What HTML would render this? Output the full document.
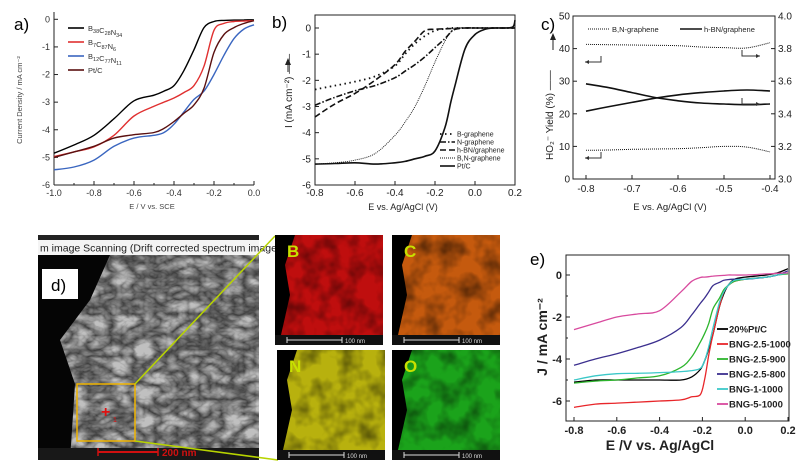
<!DOCTYPE html>
<html><head><meta charset="utf-8">
<style>
body{margin:0;background:#fff;width:804px;height:464px;overflow:hidden;font-family:"Liberation Sans",sans-serif}
svg{position:absolute;left:0;top:0}
</style></head>
<body>
<svg id="fig" width="804" height="464" viewBox="0 0 804 464" xmlns="http://www.w3.org/2000/svg">
<defs>
<filter id="tex" x="0" y="0" width="100%" height="100%"><feTurbulence type="turbulence" baseFrequency="0.045 0.07" numOctaves="3" seed="4"/><feColorMatrix type="matrix" values="0 0 0 0 0.85  0 0 0 0 0.85  0 0 0 0 0.85  0 0 0 1.6 0"/></filter>
<filter id="noise" x="0" y="0" width="100%" height="100%"><feTurbulence type="fractalNoise" baseFrequency="0.05" numOctaves="3" seed="7"/><feColorMatrix type="matrix" values="0 0 0 0 0  0 0 0 0 0  0 0 0 0 0  0 0 0 -1.8 1.1"/></filter>
</defs>
<g id="layer"></g>
<g>
<rect x="38" y="235" width="221" height="225" fill="#111"/>
<rect x="38" y="255" width="221" height="205" fill="#3a3a3a"/>
<rect x="38" y="255" width="221" height="205" filter="url(#tex)" opacity="0.75"/>
<polygon points="38,255 110,255 90,300 60,340 75,384 70,460 38,460" fill="#050505"/>
<rect x="38" y="235" width="221" height="5" fill="#222"/>
<rect x="38" y="240" width="221" height="15" fill="#f4f4f4"/>
<text x="40" y="251.5" font-size="10.5" fill="#222">m image Scanning (Drift corrected spectrum image</text>
<rect x="42" y="269" width="36" height="30" fill="#fff"/>
<text x="51" y="291" font-size="17" fill="#000">d)</text>
<rect x="77" y="384" width="58" height="57" fill="none" stroke="#f0b400" stroke-width="1.5"/>
<text x="101" y="417" font-size="16" fill="#e01010" font-weight="bold">+</text>
<text x="113" y="422" font-size="7" fill="#e01010">1</text>
<rect x="38" y="448" width="221" height="12" fill="#181818"/>
<line x1="98" y1="452" x2="158" y2="452" stroke="#d01010" stroke-width="2"/>
<line x1="98" y1="448" x2="98" y2="456" stroke="#d01010" stroke-width="1.5"/><line x1="158" y1="448" x2="158" y2="456" stroke="#d01010" stroke-width="1.5"/>
<text x="162" y="456" font-size="10" font-weight="bold" fill="#d01010">200 nm</text>
<line x1="135" y1="384" x2="275" y2="236" stroke="#b8d400" stroke-width="1.5"/>
<line x1="135" y1="441" x2="278" y2="460" stroke="#b8d400" stroke-width="1.5"/>
</g>
<g id="maps"></g>
</svg>
<script>
// ---------- data ----------
const aX=[-1.0,-0.9,-0.8,-0.7,-0.6,-0.5,-0.45,-0.4,-0.35,-0.3,-0.25,-0.2,-0.15,-0.1,-0.05,0.0];
const aBlack=[-4.85,-4.55,-4.2,-3.6,-2.95,-2.75,-2.6,-2.4,-1.85,-1.1,-0.3,-0.08,-0.04,-0.03,-0.02,-0.02];
const aRed=[-4.97,-4.8,-4.62,-4.2,-3.5,-3.15,-3.0,-2.85,-2.65,-2.4,-1.7,-0.4,-0.15,-0.08,-0.06,-0.05];
const aBlue=[-5.45,-5.35,-5.1,-4.6,-4.3,-4.2,-4.1,-3.8,-3.35,-2.9,-2.6,-2.0,-1.3,-0.7,-0.35,-0.2];
const aPt=[-5.0,-4.8,-4.6,-4.3,-4.18,-4.1,-3.95,-3.7,-3.4,-3.1,-2.5,-1.2,-0.55,-0.3,-0.15,-0.05];
const aNames=["B38C28N34","B7C87N6","B12C77N11","Pt/C"];

const bX=[-0.8,-0.7,-0.6,-0.5,-0.4,-0.35,-0.3,-0.25,-0.2,-0.15,-0.12,-0.1,-0.05,0.0,0.05,0.1,0.15,0.19,0.2];
const bB=[-2.35,-2.2,-2.05,-1.85,-1.45,-1.0,-0.6,-0.3,-0.1,-0.03,0,0,0,0,0,0,0,0,0];
const bN=[-2.95,-2.65,-2.4,-2.2,-1.9,-1.65,-1.4,-1.1,-0.75,-0.4,-0.15,-0.05,0,0,0,0,0,0,0];
const bH=[-3.4,-2.9,-2.5,-2.0,-1.4,-0.9,-0.5,-0.1,-0.05,-0.03,-0.02,-0.02,0,0,0,0,0,0,0];
const bBN=[-5.2,-5.15,-5.05,-4.8,-4.1,-3.6,-3.0,-2.2,-1.3,-0.5,-0.15,0,0,0,0,0,0,0,0];
const bPt=[-5.2,-5.18,-5.15,-5.2,-5.15,-5.1,-5.0,-4.9,-4.7,-3.8,-2.8,-2.2,-0.8,-0.25,-0.05,0,0,0.05,0.3];
const bNames=["B-graphene","N-graphene","h-BN/graphene","B,N-graphene","Pt/C"];

const cX=[-0.8,-0.75,-0.7,-0.65,-0.6,-0.55,-0.5,-0.45,-0.4];
const cDotTop=[41.3,41.2,41.1,41.0,40.9,40.5,40.3,40.2,41.8];
const cDotBot=[8.8,8.9,9.1,9.2,9.3,9.6,10.0,9.8,8.3];
const cSolidDown=[29.2,28.0,26.5,25.0,24.0,23.3,23.0,22.8,23.0];
const cSolidUp=[20.8,22.2,23.5,24.8,25.8,26.5,27.0,27.3,27.0];

const eX=[-0.8,-0.7,-0.6,-0.5,-0.4,-0.3,-0.25,-0.21,-0.19,-0.17,-0.15,-0.12,-0.1,-0.08,-0.05,0.0,0.1,0.15,0.2];
const ePt=[-5.1,-5.0,-5.0,-5.0,-5.0,-5.0,-4.85,-4.5,-4.1,-3.5,-2.8,-1.5,-0.9,-0.5,-0.2,-0.1,0.0,0.1,0.3];
const eRed=[-6.3,-6.15,-6.1,-6.05,-6.0,-5.95,-5.8,-5.7,-5.0,-3.8,-2.8,-1.5,-0.8,-0.5,-0.3,-0.2,-0.1,0.0,0.1];
const eGreen=[-5.15,-5.05,-5.0,-4.9,-4.8,-4.4,-3.9,-3.2,-2.8,-2.3,-1.6,-1.1,-0.7,-0.5,-0.3,-0.2,-0.1,0.0,0.05];
const ePurple=[-4.3,-4.0,-3.75,-3.45,-3.1,-2.5,-1.9,-1.35,-1.1,-0.8,-0.5,-0.35,-0.25,-0.22,-0.2,-0.2,-0.1,0.0,0.2];
const eCyan=[-5.0,-4.8,-4.7,-4.68,-4.65,-4.6,-4.55,-4.45,-4.1,-3.4,-2.5,-1.3,-0.8,-0.5,-0.25,-0.2,-0.1,0.0,0.1];
const eMag=[-2.6,-2.3,-2.0,-1.85,-1.7,-0.8,-0.3,-0.12,-0.1,-0.08,-0.05,-0.03,-0.02,0,0,0,0.05,0.08,0.1];
const eNames=["20%Pt/C","BNG-2.5-1000","BNG-2.5-900","BNG-2.5-800","BNG-1-1000","BNG-5-1000"];
const eColors=["#000","#e8262a","#2db52d","#3b2f8e","#3cc8c8","#d84a9e"];

// ---------- helpers ----------
const NS="http://www.w3.org/2000/svg";
const root=document.getElementById('layer');
function mk(tag,attrs,parent,text){const e=document.createElementNS(NS,tag);for(const k in attrs)e.setAttribute(k,attrs[k]);if(text!==undefined)e.textContent=text;(parent||root).appendChild(e);return e;}
function lin(d0,d1,r0,r1){return v=>r0+(v-d0)/(d1-d0)*(r1-r0);}
function smooth(pts){let d='M'+pts[0][0].toFixed(1)+','+pts[0][1].toFixed(1);for(let i=0;i<pts.length-1;i++){const p0=pts[i-1]||pts[i],p1=pts[i],p2=pts[i+1],p3=pts[i+2]||p2;const c1=[p1[0]+(p2[0]-p0[0])/6,p1[1]+(p2[1]-p0[1])/6],c2=[p2[0]-(p3[0]-p1[0])/6,p2[1]-(p3[1]-p1[1])/6];d+=' C'+c1.map(v=>v.toFixed(1))+' '+c2.map(v=>v.toFixed(1))+' '+p2[0].toFixed(1)+','+p2[1].toFixed(1);}return d;}
function series(xs,ys,sx,sy,attrs,name){const p=mk('path',Object.assign({d:smooth(xs.map((x,i)=>[sx(x),sy(ys[i])])),fill:'none'},attrs));return p;}
function txt(x,y,s,attrs,name){const t=mk('text',Object.assign({x:x,y:y},attrs),root,s);return t;}

// ---------- panel a ----------
{const sx=lin(-1,0,54,254),sy=lin(0,-6,19.3,185);
 mk('line',{x1:54,y1:12,x2:54,y2:185,stroke:'#222','stroke-width':1});
 mk('line',{x1:54,y1:185,x2:254,y2:185,stroke:'#222','stroke-width':1});
 [0,-1,-2,-3,-4,-5,-6].forEach(v=>{mk('line',{x1:54,y1:sy(v),x2:58,y2:sy(v),stroke:'#222'});txt(50,sy(v)+3,String(v),{'font-size':9,'text-anchor':'end',fill:'#333'},'a-y-tick-label');});
 [-1.0,-0.8,-0.6,-0.4,-0.2,0.0].forEach(v=>{mk('line',{x1:sx(v),y1:185,x2:sx(v),y2:181,stroke:'#222'});txt(sx(v),196,v.toFixed(1),{'font-size':9,'text-anchor':'middle',fill:'#333'},'a-x-tick-label');});
 [-0.9,-0.7,-0.5,-0.3,-0.1].forEach(v=>mk('line',{x1:sx(v),y1:185,x2:sx(v),y2:183,stroke:'#222'}));
 txt(14,30,'a)',{'font-size':17,fill:'#000'},'panel-a-label');
 txt(0,0,'Current Density / mA cm⁻²',{'font-size':7.5,fill:'#444',transform:'translate(22,100) rotate(-90)','text-anchor':'middle'},'a-y-axis-title');
 txt(152,209,'E / V vs. SCE',{'font-size':7.5,fill:'#444','text-anchor':'middle'},'a-x-axis-title');
 const cols=['#000','#e03030','#3a66c0','#5a1010'];[aBlack,aRed,aBlue,aPt].forEach((ys,i)=>series(aX,ys,sx,sy,{stroke:cols[i],'stroke-width':1.4},'a-series-'+i));
 aNames.forEach((n,i)=>{const y=28+i*14;mk('line',{x1:68,y1:y,x2:84,y2:y,stroke:cols[i],'stroke-width':1.6});const t=mk('text',{x:88,y:y+3,'font-size':7.5,fill:'#333'});
  n.replace(/([A-Za-z\/]+)(\d*)/g,(m,a,b)=>{mk('tspan',{},t,a);if(b){mk('tspan',{'font-size':5.5,dy:2},t,b);mk('tspan',{dy:-2},t,'');}return m;});});
}
// ---------- panel b ----------
{const sx=lin(-0.8,0.2,315,515),sy=lin(0,-6,28,185);
 mk('rect',{x:315,y:15,width:200,height:170,fill:'none',stroke:'#222'});
 [0,-1,-2,-3,-4,-5,-6].forEach(v=>{mk('line',{x1:315,y1:sy(v),x2:319,y2:sy(v),stroke:'#222'});txt(311,sy(v)+3.5,String(v),{'font-size':10,'text-anchor':'end',fill:'#222'},'b-y-tick-label');});
 [-0.8,-0.6,-0.4,-0.2,0.0,0.2].forEach(v=>{mk('line',{x1:sx(v),y1:185,x2:sx(v),y2:181,stroke:'#222'});txt(sx(v),196,v.toFixed(1),{'font-size':10,'text-anchor':'middle',fill:'#222'},'b-x-tick-label');});
 txt(272,28,'b)',{'font-size':17,fill:'#000'},'panel-b-label');
 txt(0,0,'I (mA cm⁻²) ——',{'font-size':10,fill:'#222',transform:'translate(292,128) rotate(-90)'},'b-y-axis-title');
 mk('polygon',{points:'288,58 285,65 291,65',fill:'#222'});mk('line',{x1:288,y1:64,x2:288,y2:72,stroke:'#222'});
 txt(403,210,'E vs. Ag/AgCl (V)',{'font-size':9,fill:'#222','text-anchor':'middle'},'b-x-axis-title');
 const st=[{stroke:'#111','stroke-width':1.8,'stroke-dasharray':'1.5,3.5'},{stroke:'#111','stroke-width':1.6,'stroke-dasharray':'6,2,1.5,2'},{stroke:'#111','stroke-width':1.6,'stroke-dasharray':'6,3'},{stroke:'#111','stroke-width':0.9,'stroke-dasharray':'1,1'},{stroke:'#111','stroke-width':1.6}];
 [bB,bN,bH,bBN,bPt].forEach((ys,i)=>series(bX,ys,sx,sy,st[i],'b-series-'+i));
 bNames.forEach((n,i)=>{const y=134+i*8;mk('line',Object.assign({x1:440,y1:y,x2:455,y2:y},st[i]));txt(457,y+2.5,n,{'font-size':7,fill:'#222'},'b-legend-entry');});
}
// ---------- panel c ----------
{const sx=lin(-0.8,-0.4,586,770),sy=lin(0,50,179,16);const sr=lin(3,4,179,16);
 mk('rect',{x:573,y:16,width:202,height:163,fill:'none',stroke:'#222'});
 [0,10,20,30,40,50].forEach(v=>{mk('line',{x1:573,y1:sy(v),x2:577,y2:sy(v),stroke:'#222'});txt(570,sy(v)+3.5,String(v),{'font-size':10,'text-anchor':'end',fill:'#222'},'c-y-tick-label');});
 [3.0,3.2,3.4,3.6,3.8,4.0].forEach(v=>{mk('line',{x1:771,y1:sr(v),x2:775,y2:sr(v),stroke:'#222'});txt(778,sr(v)+3.5,v.toFixed(1),{'font-size':10,fill:'#222'},'c-right-tick-label');});
 [-0.8,-0.7,-0.6,-0.5,-0.4].forEach(v=>{mk('line',{x1:sx(v),y1:179,x2:sx(v),y2:175,stroke:'#222'});txt(sx(v),192,v.toFixed(1),{'font-size':10,'text-anchor':'middle',fill:'#222'},'c-x-tick-label');});
 txt(541,30,'c)',{'font-size':17,fill:'#000'},'panel-c-label');
 txt(0,0,'HO₂⁻ Yield (%) ——',{'font-size':10,fill:'#222',transform:'translate(553,160) rotate(-90)'},'c-y-axis-title');
 mk('polygon',{points:'553,33 550,40 556,40',fill:'#222'});mk('line',{x1:553,y1:39,x2:553,y2:50,stroke:'#222'});
 txt(670,210,'E vs. Ag/AgCl (V)',{'font-size':9.5,fill:'#222','text-anchor':'middle'},'c-x-axis-title');
 const dot={stroke:'#111','stroke-width':1,'stroke-dasharray':'1,1'},sol={stroke:'#111','stroke-width':1.6};
 series(cX,cDotTop,sx,sy,dot,'c-bn-n');series(cX,cDotBot,sx,sy,dot,'c-bn-yield');series(cX,cSolidDown,sx,sy,sol,'c-hbn-n');series(cX,cSolidUp,sx,sy,sol,'c-hbn-yield');
 mk('line',Object.assign({x1:588,y1:29,x2:610,y2:29},dot));txt(612,32,'B,N-graphene',{'font-size':7.5,fill:'#222'},'c-legend-entry');
 mk('line',Object.assign({x1:680,y1:29,x2:702,y2:29},sol));txt(704,32,'h-BN/graphene',{'font-size':7.5,fill:'#222'},'c-legend-entry');
 function arr(x1,x2,y,yv,dir){mk('path',{d:`M${dir>0?x1:x2},${yv} V${y} H${dir>0?x2:x1}`,fill:'none',stroke:'#333'});const xa=dir>0?x2:x1;mk('polygon',{points:`${xa},${y} ${xa-4*dir},${y-2} ${xa-4*dir},${y+2}`,fill:'#333'});}
 arr(742,760,56,50,1);arr(742,760,104,98,1);arr(585,601,62,56,-1);arr(585,601,158,152,-1);
}
// ---------- panel e ----------
{const sx=lin(-0.8,0.2,574,788),sy=lin(0,-6,275,401);
 mk('rect',{x:566,y:255,width:223,height:166,fill:'none',stroke:'#222'});
 [0,-2,-4,-6].forEach(v=>{mk('line',{x1:566,y1:sy(v),x2:570,y2:sy(v),stroke:'#222'});txt(562,sy(v)+4,String(v),{'font-size':11,'font-weight':'bold','text-anchor':'end',fill:'#222'},'e-y-tick-label');});
 [-1,-3,-5].forEach(v=>mk('line',{x1:566,y1:sy(v),x2:568,y2:sy(v),stroke:'#222'}));
 [-0.8,-0.6,-0.4,-0.2,0.0,0.2].forEach(v=>{mk('line',{x1:sx(v),y1:421,x2:sx(v),y2:417,stroke:'#222'});txt(sx(v),434,v.toFixed(1),{'font-size':11,'font-weight':'bold','text-anchor':'middle',fill:'#222'},'e-x-tick-label');});
 txt(530,265,'e)',{'font-size':17,fill:'#000'},'panel-e-label');
 txt(0,0,'J / mA cm⁻²',{'font-size':14,'font-weight':'bold',fill:'#222','text-anchor':'middle',transform:'translate(547,337) rotate(-90)'},'e-y-axis-title');
 txt(660,450,'E /V vs. Ag/AgCl',{'font-size':14,'font-weight':'bold',fill:'#222','text-anchor':'middle'},'e-x-axis-title');
 [ePt,eRed,eGreen,ePurple,eCyan,eMag].forEach((ys,i)=>series(eX,ys,sx,sy,{stroke:eColors[i],'stroke-width':1.3},'e-series-'+i));
 eNames.forEach((n,i)=>{const y=329+i*15;mk('line',{x1:717,y1:y,x2:728,y2:y,stroke:eColors[i],'stroke-width':1.8});txt(729,y+3.5,n,{'font-size':9.5,'font-weight':'bold',fill:'#222'},'e-legend-entry');});
}
// ---------- elemental maps ----------
{const g=document.getElementById('maps');
 const tiles=[['B',275,235,'#e01010'],['C',392,235,'#e86a10'],['N',277,350,'#d8d010'],['O',392,350,'#20c020']];
 tiles.forEach(t=>{const [l,x,y,c]=t;const grp=mk('g',{},g);
  mk('rect',{x:x,y:y,width:108,height:110,fill:'#000'},grp);
  mk('polygon',{points:`${x+20},${y} ${x+108},${y} ${x+108},${y+100} ${x+6},${y+100} ${x+15},${y+60} ${x+10},${y+30}`,fill:c,opacity:0.85},grp);
  mk('rect',{x:x,y:y,width:108,height:100,fill:'#000',filter:'url(#noise)',opacity:0.55},grp);
  mk('rect',{x:x,y:y+100,width:108,height:10,fill:'#111'},grp);
  mk('line',{x1:x+12,y1:y+105,x2:x+67,y2:y+105,stroke:'#ddd','stroke-width':1},grp);
  mk('line',{x1:x+12,y1:y+102,x2:x+12,y2:y+108,stroke:'#ddd'},grp);mk('line',{x1:x+67,y1:y+102,x2:x+67,y2:y+108,stroke:'#ddd'},grp);
  mk('text',{x:x+70,y:y+108,'font-size':6,fill:'#ddd'},grp,'100 nm');
  mk('text',{x:x+12,y:y+22,'font-size':17,'font-weight':'bold',fill:'#c8e000'},grp,l);
 });
}
</script>
</body></html>
